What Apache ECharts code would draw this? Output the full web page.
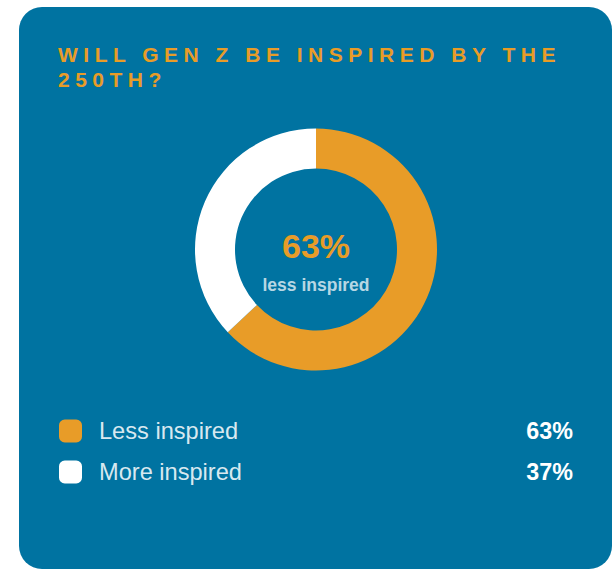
<!DOCTYPE html>
<html>
<head>
<meta charset="utf-8">
<script src="https://cdn.jsdelivr.net/npm/echarts@6/dist/echarts.min.js"></script>
<style>
  html, body { margin: 0; padding: 0; background: #ffffff; }
  #chart { width: 614px; height: 571px; }
</style>
</head>
<body>
<div id="chart"></div>
<script>
// ---- data ----
const titleLines = ['WILL GEN Z BE INSPIRED BY THE', '250TH?'];
const categories = ['Less inspired', 'More inspired'];
const values = [63, 37];
const sliceColors = ['#E89C28', '#FFFFFF'];

const FONT = '"Liberation Sans", Arial, Helvetica, sans-serif';
const CARD = '#0073A1';
const ORANGE = '#E89C28';

const chart = echarts.init(document.getElementById('chart'), null, { renderer: 'svg' });

const option = {
  animation: false,
  backgroundColor: '#ffffff',
  graphic: {
    elements: [
      {
        type: 'rect', z: -10, silent: true,
        shape: { x: 19, y: 7, width: 593, height: 562, r: 23 },
        style: { fill: CARD }
      },
      {
        type: 'text', z: 100, silent: true,
        x: 316, y: 246,
        style: {
          text: values[0] + '%',
          fill: ORANGE, font: 'bold 34px ' + FONT,
          textAlign: 'center', textVerticalAlign: 'middle'
        }
      },
      {
        type: 'text', z: 100, silent: true,
        x: 316, y: 285,
        style: {
          text: categories[0].toLowerCase(),
          fill: 'rgba(255,255,255,0.72)', font: 'bold 17.5px ' + FONT,
          textAlign: 'center', textVerticalAlign: 'middle'
        }
      }
    ]
  },
  title: {
    text: titleLines.join('\n'),
    left: 53,
    top: 37,
    textStyle: {
      color: ORANGE,
      fontSize: 21,
      fontWeight: 'bold',
      lineHeight: 25,
      fontFamily: FONT
    }
  },
  legend: {
    orient: 'vertical',
    left: 54,
    top: 414,
    itemWidth: 23,
    itemHeight: 23,
    itemGap: 17,
    icon: 'roundRect',
    selectedMode: false,
    data: categories,
    formatter: function (name) {
      const i = categories.indexOf(name);
      return '{n|' + name + '}{v|' + values[i] + '%}';
    },
    textStyle: {
      fontFamily: FONT,
      rich: {
        n: { fontSize: 23.6, lineHeight: 23, color: 'rgba(255,255,255,0.86)', width: 390, padding: [0, 0, 0, 12], fontFamily: FONT },
        v: { fontSize: 23.3, lineHeight: 23, color: '#ffffff', fontWeight: 'bold', width: 84, align: 'right', fontFamily: FONT }
      }
    }
  },
  series: [
    {
      type: 'pie',
      center: [316, 249.5],
      radius: [81, 121],
      startAngle: 90,
      clockwise: true,
      silent: true,
      label: { show: false },
      labelLine: { show: false },
      emphasis: { disabled: true },
      data: categories.map((c, i) => ({ name: c, value: values[i], itemStyle: { color: sliceColors[i] } }))
    }
  ]
};

chart.setOption(option);

function applySpacing() {
  document.querySelectorAll('#chart svg text').forEach(t => {
    const s = t.textContent.trim();
    if (titleLines.indexOf(s) >= 0) {
      t.style.letterSpacing = '5.5px';
    }
  });
}
applySpacing();
chart.on('finished', applySpacing);
</script>
</body>
</html>
